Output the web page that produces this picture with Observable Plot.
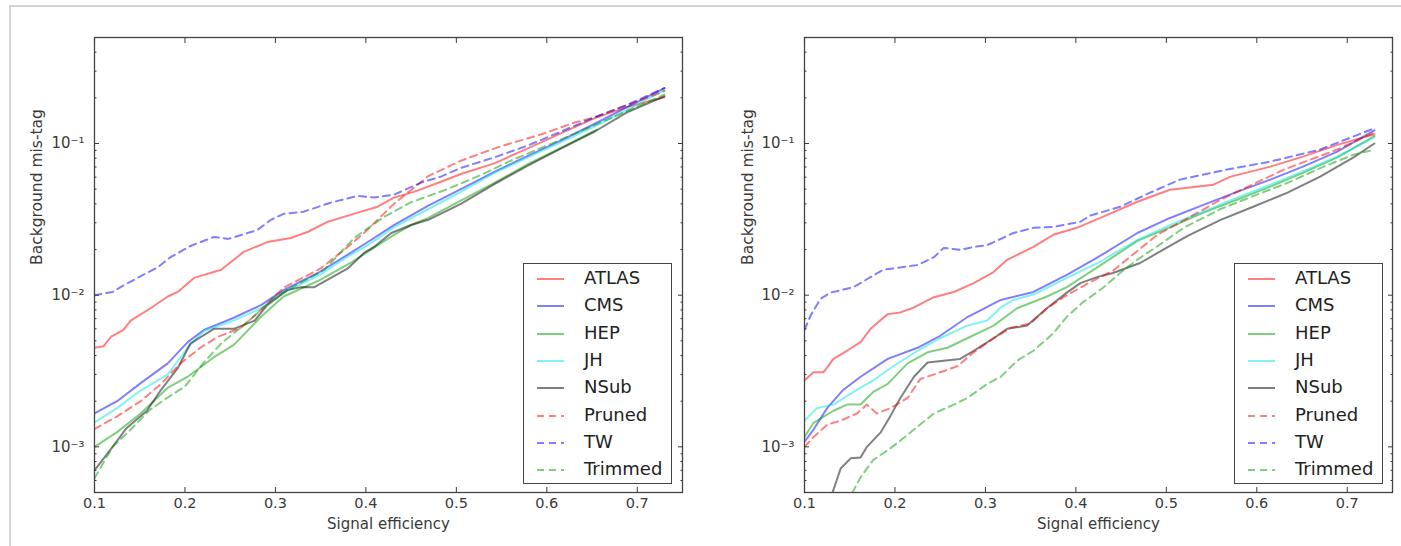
<!DOCTYPE html>
<html>
<head>
<meta charset="utf-8">
<script src="https://cdn.jsdelivr.net/npm/d3@7"></script>
<script src="https://cdn.jsdelivr.net/npm/@observablehq/plot@0.6"></script>
<style>
  html, body { margin: 0; padding: 0; background: #fff; overflow: hidden; }
  #root { position: relative; width: 1401px; height: 546px; font-family: "DejaVu Sans", sans-serif; }
  #border { position: absolute; left: 9px; top: 5px; right: -4px; bottom: -4px; border-top: 2px solid #d4d4d4; border-left: 2px solid #d4d4d4; }
  .panel { position: absolute; top: 0; }
  .legend { position: absolute; top: 263px; width: 147px; height: 219px; border: 1.3px solid #444; background: #fff; }
  .legend .row { position: absolute; left: 0; height: 20px; width: 100%; }
  .legend svg { position: absolute; left: 12px; top: 0; }
  .legend span { position: absolute; left: 60px; top: -1px; font-size: 18px; line-height: 20px; color: #222; white-space: nowrap; }
</style>
</head>
<body>
<div id="root"><div id="border"></div></div>
<script>
// ---- data (signal efficiency, background mis-tag) ----
const seriesNames = ["ATLAS", "CMS", "HEP", "JH", "NSub", "Pruned", "TW", "Trimmed"];
const seriesColors = ["#ff0000", "#0000ff", "#00a000", "#00e5e5", "#000000", "#ff0000", "#0000ff", "#00a000"];
const seriesDashed = [false, false, false, false, false, true, true, true];
const xTicks = [0.1, 0.2, 0.3, 0.4, 0.5, 0.6, 0.7];
const yMajor = [0.001, 0.01, 0.1];
const yMinor = [5e-4, 6e-4, 7e-4, 8e-4, 9e-4, 0.002, 0.003, 0.004, 0.005, 0.006, 0.007, 0.008, 0.009, 0.02, 0.03, 0.04, 0.05, 0.06, 0.07, 0.08, 0.09, 0.2, 0.3, 0.4, 0.5];
const xLabel = "Signal efficiency";
const yLabel = "Background mis-tag";

// left panel
const L_ATLAS = [[0.1,0.0045],[0.11,0.0046],[0.118,0.0053],[0.132,0.0059],[0.14,0.0068],[0.162,0.0082],[0.181,0.0098],[0.192,0.0105],[0.21,0.013],[0.24,0.0147],[0.265,0.0193],[0.291,0.0224],[0.317,0.0238],[0.336,0.0262],[0.358,0.0305],[0.391,0.035],[0.413,0.0383],[0.431,0.044],[0.453,0.048],[0.483,0.056],[0.505,0.063],[0.542,0.074],[0.579,0.093],[0.616,0.117],[0.653,0.147],[0.69,0.175],[0.73,0.202]];
const L_CMS = [[0.1,0.00166],[0.125,0.002],[0.151,0.00263],[0.181,0.00355],[0.203,0.0049],[0.221,0.0059],[0.254,0.0071],[0.284,0.0086],[0.309,0.0108],[0.347,0.014],[0.38,0.0185],[0.4,0.022],[0.431,0.029],[0.469,0.039],[0.505,0.05],[0.542,0.065],[0.579,0.083],[0.616,0.105],[0.653,0.135],[0.69,0.175],[0.73,0.232]];
const L_HEP = [[0.1,0.001],[0.125,0.00125],[0.151,0.00166],[0.181,0.00245],[0.203,0.0029],[0.232,0.0039],[0.254,0.0047],[0.284,0.0072],[0.309,0.0098],[0.347,0.0124],[0.383,0.0163],[0.4,0.019],[0.431,0.025],[0.45,0.029],[0.469,0.0323],[0.505,0.042],[0.542,0.055],[0.579,0.073],[0.616,0.094],[0.655,0.123]];
const L_JH = [[0.1,0.00145],[0.125,0.0018],[0.151,0.00235],[0.181,0.003],[0.203,0.0045],[0.221,0.0058],[0.254,0.0068],[0.284,0.0082],[0.309,0.0104],[0.347,0.0134],[0.38,0.018],[0.4,0.021],[0.431,0.028],[0.469,0.037],[0.505,0.048],[0.542,0.064],[0.579,0.081],[0.616,0.102],[0.653,0.13],[0.69,0.168],[0.73,0.225]];
const L_NSub = [[0.1,0.0007],[0.12,0.001],[0.135,0.00132],[0.158,0.00173],[0.173,0.00235],[0.192,0.0033],[0.206,0.0048],[0.232,0.006],[0.254,0.006],[0.277,0.0068],[0.291,0.0086],[0.313,0.0108],[0.328,0.0113],[0.343,0.0113],[0.38,0.015],[0.398,0.019],[0.409,0.0208],[0.428,0.0257],[0.45,0.029],[0.469,0.0314],[0.505,0.04],[0.542,0.054],[0.579,0.0715],[0.616,0.093],[0.653,0.12],[0.69,0.162],[0.73,0.205]];
const L_Pruned = [[0.1,0.00131],[0.125,0.00159],[0.151,0.002],[0.173,0.00258],[0.195,0.00355],[0.217,0.0045],[0.236,0.0053],[0.262,0.0061],[0.284,0.008],[0.309,0.0112],[0.35,0.015],[0.376,0.0199],[0.398,0.0257],[0.431,0.04],[0.469,0.061],[0.505,0.077],[0.547,0.095],[0.594,0.115],[0.63,0.137],[0.653,0.149],[0.69,0.18],[0.73,0.222]];
const L_TW = [[0.1,0.01],[0.12,0.0105],[0.132,0.0116],[0.17,0.0153],[0.184,0.0178],[0.206,0.0211],[0.232,0.0242],[0.248,0.0235],[0.28,0.0269],[0.295,0.0314],[0.309,0.0344],[0.331,0.0355],[0.361,0.0407],[0.391,0.0452],[0.409,0.044],[0.431,0.046],[0.461,0.0552],[0.483,0.0605],[0.505,0.069],[0.542,0.081],[0.579,0.097],[0.616,0.12],[0.653,0.149],[0.69,0.181],[0.73,0.232]];
const L_Trimmed = [[0.1,0.00062],[0.12,0.001],[0.14,0.0013],[0.16,0.00173],[0.18,0.0021],[0.2,0.0025],[0.22,0.00355],[0.24,0.0048],[0.26,0.006],[0.28,0.0076],[0.3,0.0098],[0.354,0.0147],[0.387,0.0238],[0.42,0.0328],[0.45,0.041],[0.49,0.05],[0.53,0.063],[0.56,0.077],[0.6,0.097],[0.646,0.127],[0.69,0.165],[0.73,0.21]];

// right panel
const R_ATLAS = [[0.1,0.00274],[0.11,0.0031],[0.121,0.0031],[0.132,0.0038],[0.147,0.0043],[0.162,0.0049],[0.173,0.006],[0.192,0.0075],[0.206,0.0077],[0.221,0.0083],[0.243,0.0097],[0.265,0.0105],[0.287,0.012],[0.309,0.0142],[0.324,0.0171],[0.353,0.0208],[0.375,0.025],[0.401,0.0278],[0.427,0.0323],[0.468,0.0413],[0.504,0.0496],[0.552,0.0535],[0.571,0.0605],[0.615,0.0704],[0.651,0.082],[0.689,0.098],[0.73,0.115]];
const R_CMS = [[0.1,0.00108],[0.11,0.0013],[0.125,0.0018],[0.142,0.00235],[0.162,0.0029],[0.192,0.0038],[0.225,0.0045],[0.25,0.0054],[0.279,0.0071],[0.317,0.0093],[0.353,0.0105],[0.39,0.0136],[0.423,0.0176],[0.468,0.0257],[0.504,0.0323],[0.541,0.0394],[0.578,0.048],[0.615,0.0578],[0.651,0.0704],[0.689,0.0885],[0.73,0.122]];
const R_HEP = [[0.1,0.00116],[0.11,0.00144],[0.132,0.00173],[0.147,0.0019],[0.162,0.0019],[0.176,0.0023],[0.192,0.0026],[0.214,0.00355],[0.236,0.0042],[0.258,0.0045],[0.28,0.0052],[0.309,0.0063],[0.335,0.0082],[0.368,0.0098],[0.39,0.0113],[0.424,0.0153],[0.468,0.0228],[0.504,0.028],[0.541,0.035],[0.578,0.0426],[0.615,0.052],[0.651,0.064],[0.689,0.081],[0.73,0.112]];
const R_JH = [[0.1,0.00149],[0.114,0.0018],[0.132,0.0019],[0.154,0.0023],[0.176,0.00274],[0.198,0.0034],[0.225,0.0043],[0.25,0.0052],[0.28,0.0063],[0.302,0.0068],[0.317,0.0083],[0.331,0.0093],[0.353,0.0101],[0.39,0.013],[0.424,0.0163],[0.468,0.0231],[0.504,0.029],[0.541,0.0355],[0.578,0.044],[0.615,0.0535],[0.651,0.0655],[0.689,0.082],[0.73,0.11]];
const R_NSub = [[0.125,0.00042],[0.131,0.0005],[0.14,0.00072],[0.151,0.00084],[0.162,0.00085],[0.169,0.001],[0.184,0.00124],[0.195,0.0016],[0.206,0.0021],[0.221,0.0029],[0.236,0.0036],[0.254,0.0037],[0.272,0.0038],[0.287,0.0043],[0.309,0.0052],[0.324,0.006],[0.346,0.0063],[0.368,0.0082],[0.39,0.0104],[0.405,0.012],[0.424,0.0132],[0.441,0.014],[0.471,0.0163],[0.5,0.0205],[0.523,0.0245],[0.56,0.0314],[0.596,0.0383],[0.634,0.0474],[0.67,0.0605],[0.707,0.081],[0.73,0.1]];
const R_Pruned = [[0.1,0.001],[0.11,0.00116],[0.125,0.0014],[0.14,0.00149],[0.158,0.00166],[0.169,0.0019],[0.18,0.00166],[0.195,0.0018],[0.214,0.0021],[0.228,0.0028],[0.25,0.0031],[0.269,0.0034],[0.287,0.0042],[0.309,0.0052],[0.328,0.0061],[0.35,0.0065],[0.368,0.0082],[0.39,0.01],[0.416,0.0122],[0.441,0.0145],[0.49,0.025],[0.527,0.033],[0.56,0.0426],[0.63,0.0673],[0.689,0.0913],[0.73,0.118]];
const R_TW = [[0.1,0.0059],[0.107,0.0074],[0.118,0.0095],[0.129,0.0104],[0.154,0.0113],[0.187,0.0147],[0.225,0.0158],[0.243,0.0178],[0.254,0.0205],[0.272,0.0199],[0.287,0.0208],[0.302,0.0214],[0.331,0.0257],[0.353,0.0278],[0.375,0.0282],[0.405,0.0305],[0.416,0.0335],[0.449,0.0383],[0.482,0.0474],[0.515,0.0578],[0.567,0.0673],[0.615,0.076],[0.67,0.0913],[0.73,0.126]];
const R_Trimmed = [[0.148,0.00042],[0.153,0.0005],[0.162,0.00063],[0.176,0.00082],[0.192,0.00095],[0.206,0.0011],[0.221,0.0013],[0.243,0.00166],[0.265,0.0019],[0.28,0.0021],[0.302,0.0026],[0.317,0.0029],[0.335,0.0037],[0.353,0.0043],[0.375,0.0056],[0.39,0.0072],[0.408,0.009],[0.43,0.0112],[0.45,0.0142],[0.47,0.0175],[0.49,0.021],[0.52,0.028],[0.56,0.037],[0.6,0.046],[0.634,0.055],[0.674,0.0704],[0.707,0.0845],[0.73,0.091]];

const leftSeries = [L_ATLAS, L_CMS, L_HEP, L_JH, L_NSub, L_Pruned, L_TW, L_Trimmed];
const rightSeries = [R_ATLAS, R_CMS, R_HEP, R_JH, R_NSub, R_Pruned, R_TW, R_Trimmed];

const sup = {"-1": "⁻¹", "-2": "⁻²", "-3": "⁻³"};
const fmtY = d => "10" + sup[String(Math.round(Math.log10(d)))];

function panel(series, width, marginLeft, marginRight, yLabelDx) {
  const lines = series.map((s, i) => Plot.line(s, {
    x: d => d[0], y: d => d[1],
    stroke: seriesColors[i], strokeOpacity: 0.5, strokeWidth: 2,
    strokeDasharray: seriesDashed[i] ? "7,5" : null, clip: true
  }));
  return Plot.plot({
    width, height: 546,
    marginLeft, marginRight, marginTop: 37, marginBottom: 54,
    x: {domain: [0.1, 0.75]},
    y: {type: "log", domain: [5e-4, 0.5]},
    style: {fontFamily: "DejaVu Sans", fontSize: "14px", color: "#3a3a3a", background: "transparent", overflow: "visible"},
    marks: [
      ...lines,
      Plot.frame({stroke: "#444", strokeWidth: 1.3}),
      Plot.axisX({anchor: "bottom", ticks: xTicks, tickSize: -5, tickPadding: 10, tickFormat: d => d.toFixed(1), label: null, fontSize: 14.5}),
      Plot.axisX({anchor: "top", ticks: xTicks, tickSize: -5, tickFormat: () => "", label: null}),
      Plot.axisY({anchor: "left", ticks: yMajor, tickSize: -5, tickPadding: 15, tickFormat: fmtY, label: null, fontSize: 15}),
      Plot.axisY({anchor: "left", ticks: yMinor, tickSize: -2.5, tickFormat: () => "", label: null}),
      Plot.axisY({anchor: "right", ticks: yMajor, tickSize: -5, tickFormat: () => "", label: null}),
      Plot.axisY({anchor: "right", ticks: yMinor, tickSize: -2.5, tickFormat: () => "", label: null}),
      Plot.text([xLabel], {text: d => d, frameAnchor: "bottom", dy: 36, fontSize: 15, fill: "#3a3a3a"}),
      Plot.text([yLabel], {text: d => d, frameAnchor: "left", rotate: -90, dx: yLabelDx, fontSize: 15.5, fill: "#3a3a3a"})
    ]
  });
}

function legend(left) {
  const box = document.createElement("div");
  box.className = "legend";
  box.style.left = left + "px";
  seriesNames.forEach((name, i) => {
    const row = document.createElement("div");
    row.className = "row";
    row.style.top = (5 + i * 27.3) + "px";
    const ns = "http://www.w3.org/2000/svg";
    const svg = document.createElementNS(ns, "svg");
    svg.setAttribute("width", 30); svg.setAttribute("height", 20);
    const ln = document.createElementNS(ns, "line");
    ln.setAttribute("x1", 1); ln.setAttribute("x2", 28); ln.setAttribute("y1", 10); ln.setAttribute("y2", 10);
    ln.setAttribute("stroke", seriesColors[i]); ln.setAttribute("stroke-opacity", 0.5); ln.setAttribute("stroke-width", 2);
    if (seriesDashed[i]) ln.setAttribute("stroke-dasharray", "7,5");
    svg.appendChild(ln);
    const t = document.createElement("span");
    t.textContent = name;
    row.appendChild(svg); row.appendChild(t);
    box.appendChild(row);
  });
  return box;
}

const root = document.getElementById("root");
const p1 = panel(leftSeries, 700, 94, 18, -57);
p1.classList.add("panel"); p1.style.left = "0px";
const p2 = panel(rightSeries, 701, 104, 9, -56);
p2.classList.add("panel"); p2.style.left = "700px";
root.appendChild(p1); root.appendChild(p2);
root.appendChild(legend(523));
root.appendChild(legend(1234));
</script>
</body>
</html>
